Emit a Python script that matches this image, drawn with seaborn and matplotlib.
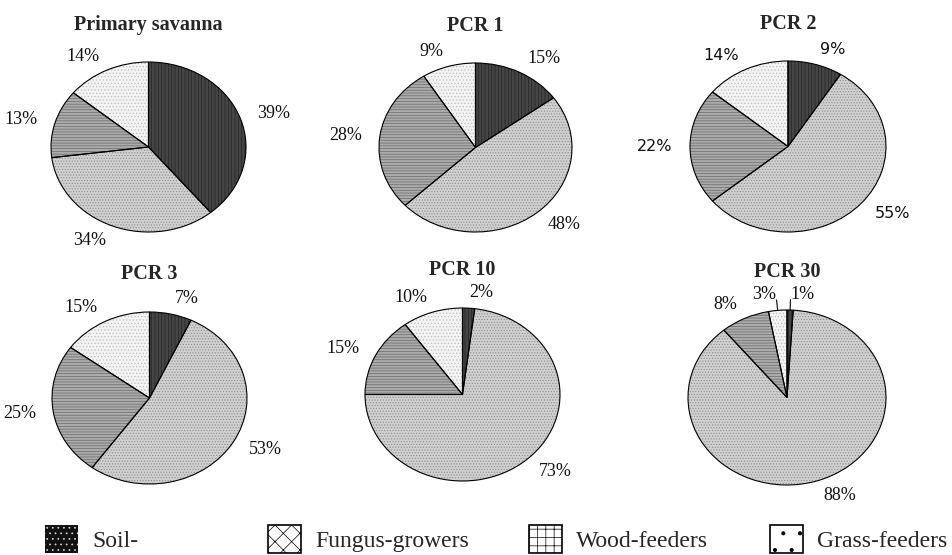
import numpy as np
import matplotlib
matplotlib.use("Agg")
import matplotlib.pyplot as plt
import seaborn as sns
from matplotlib.patches import Patch

# data: share of each feeding group per site
sites = ["Primary savanna", "PCR 1", "PCR 2", "PCR 3", "PCR 10", "PCR 30"]
groups = ["Soil-", "Fungus-growers", "Wood-feeders", "Grass-feeders"]
soil = [39, 15, 9, 7, 2, 1]
fungus = [34, 48, 55, 53, 73, 88]
wood = [13, 28, 22, 25, 15, 8]
grass = [14, 9, 14, 15, 10, 3]

# layout: pie centre and radii in pixels (the pies are drawn as ellipses)
W, H = 952, 555
pie_box = [(148.5, 147, 97.5, 85), (475.5, 147.5, 96.5, 84.5), (788, 146.5, 98, 85.5),
           (149.5, 398, 97.5, 86), (462.5, 394.5, 97.5, 86.5), (787, 397.5, 99, 87.5)]
label_font = ["Liberation Serif", "Liberation Serif", "DejaVu Sans",
              "Liberation Serif", "Liberation Serif", "Liberation Serif"]
label_size = [13, 13, 11.5, 13, 13, 13]
leader = [False, False, False, False, False, True]

face = ["#454545", "#d0d0d0", "#ababab", "#f3f3f3"]
hatch_col = ["#222222", "#8e8e8e", "#6a6a6a", "#bdbdbd"]
hatches = ["|||||", "......", "------", "....."]

sns.set_theme(style="white")
plt.rcParams["font.family"] = ["Liberation Serif", "DejaVu Serif"]
plt.rcParams["hatch.linewidth"] = 0.5

fig = plt.figure(figsize=(W / 100, H / 100), dpi=100)
lim = 1.6

for i, site in enumerate(sites):
    cx, cy, rx, ry = pie_box[i]
    ax = fig.add_axes([(cx - lim * rx) / W, 1 - (cy + lim * ry) / H,
                       2 * lim * rx / W, 2 * lim * ry / H])
    vals = [soil[i], fungus[i], wood[i], grass[i]]
    labels = [f"{v}%" for v in vals]
    wedges, texts = ax.pie(vals, colors=face, startangle=90, counterclock=False,
                           labels=labels, labeldistance=1.18,
                           wedgeprops=dict(linewidth=0),
                           textprops=dict(fontsize=label_size[i], family=label_font[i],
                                          color="#111111"))
    for w, h, hc in zip(wedges, hatches, hatch_col):
        w.set_hatch(h)
        w.set_edgecolor(hc)
    # outlines on top
    ax.pie(vals, startangle=90, counterclock=False,
           wedgeprops=dict(fill=False, edgecolor="black", linewidth=0.8))
    if leader[i]:
        for w, v in zip(wedges, vals):
            if v < 5:
                ang = np.deg2rad((w.theta1 + w.theta2) / 2)
                ax.plot([np.cos(ang), 1.12 * np.cos(ang)], [np.sin(ang), 1.12 * np.sin(ang)],
                        color="black", lw=0.8)
    ax.text(0, 1.38, site, ha="center", va="baseline", fontsize=14.5, fontweight="bold")
    ax.set_aspect("auto")
    ax.set_xlim(-lim, lim)
    ax.set_ylim(-lim, lim)
    ax.axis("off")

# legend, one entry per block
leg_x = [45, 268, 529, 770]
leg_style = [dict(facecolor="#111111", edgecolor="#d8d8d8", hatch="...", linewidth=0),
             dict(facecolor="white", edgecolor="black", hatch="xx", linewidth=1.2),
             dict(facecolor="white", edgecolor="black", hatch="++", linewidth=1.2),
             dict(facecolor="white", edgecolor="black", hatch=".", linewidth=1.2)]
for x, g, st in zip(leg_x, groups, leg_style):
    fig.legend(handles=[Patch(label=g, **st)], loc="center left",
               bbox_to_anchor=(x / W, 1 - 539 / H), frameon=False, fontsize=17,
               handlelength=1.4, handleheight=1.45, handletextpad=0.6,
               borderpad=0, borderaxespad=0)

fig.savefig("out.png", dpi=100)
